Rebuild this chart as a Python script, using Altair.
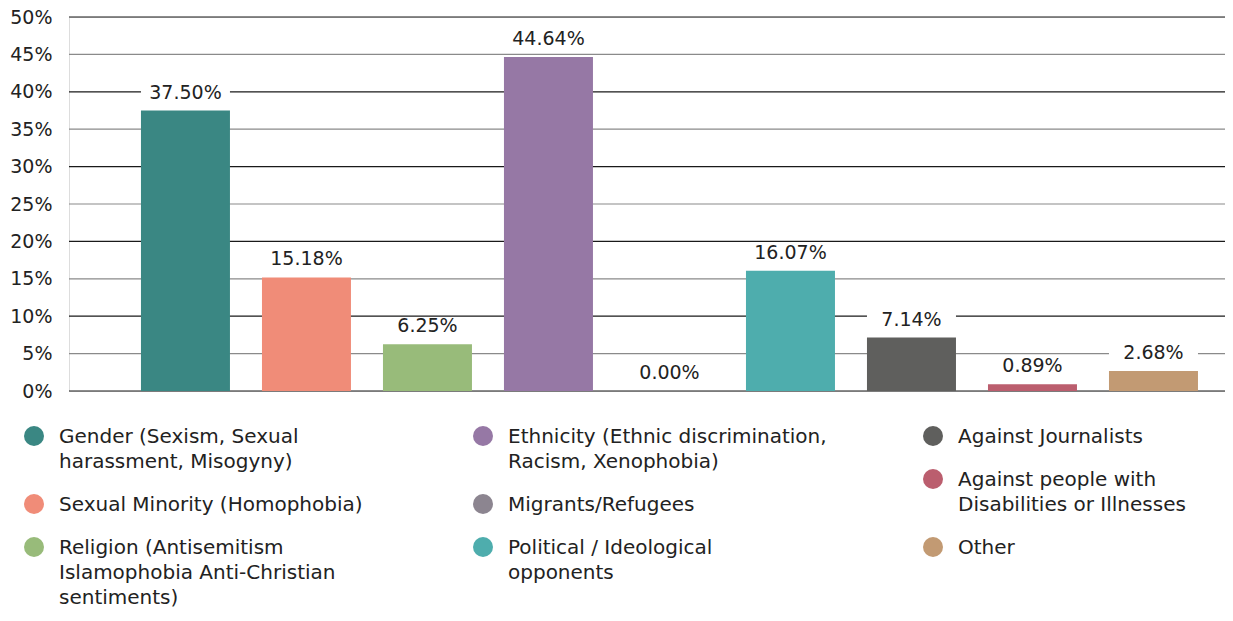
import json
import altair as alt
import pandas as pd

categories = [
    "Gender (Sexism, Sexual harassment, Misogyny)",
    "Sexual Minority (Homophobia)",
    "Religion (Antisemitism Islamophobia Anti-Christian sentiments)",
    "Ethnicity (Ethnic discrimination, Racism, Xenophobia)",
    "Migrants/Refugees",
    "Political / Ideological opponents",
    "Against Journalists",
    "Against people with Disabilities or Illnesses",
    "Other",
]
values = [37.50, 15.18, 6.25, 44.64, 0.00, 16.07, 7.14, 0.89, 2.68]
colors = ["#3a8783", "#f08c78", "#98bb7a", "#9678a5", "#8c8590",
          "#4eadad", "#5f5f5d", "#bb5e6e", "#c29a73"]
legend_lines = [
    ["Gender (Sexism, Sexual", "harassment, Misogyny)"],
    ["Sexual Minority (Homophobia)"],
    ["Religion (Antisemitism", "Islamophobia Anti-Christian", "sentiments)"],
    ["Ethnicity (Ethnic discrimination,", "Racism, Xenophobia)"],
    ["Migrants/Refugees"],
    ["Political / Ideological", "opponents"],
    ["Against Journalists"],
    ["Against people with", "Disabilities or Illnesses"],
    ["Other"],
]
legend_columns = [[0, 1, 2], [3, 4, 5], [6, 7, 8]]
y_ticks = [0, 5, 10, 15, 20, 25, 30, 35, 40, 45, 50]

FONT = "DejaVu Sans"
TEXT = "#222222"

df = pd.DataFrame({"category": categories, "value": values})
label_map = json.dumps(dict(zip(categories, legend_lines)))

xscale = alt.Scale(domain=categories, paddingInner=0.2645, paddingOuter=0.409, align=0.727)
yscale = alt.Scale(domain=[0, 50], nice=False, zero=True)
yaxis = alt.Axis(values=y_ticks, labelExpr="datum.value + '%'", domain=False, ticks=False,
                 grid=False, labelPadding=17, labelFontSize=19, labelFont=FONT,
                 labelColor=TEXT, title=None, labelOffset=9)
X = alt.X("category:N", sort=categories, scale=xscale, axis=None)

grid = alt.Chart(pd.DataFrame({"tick": y_ticks})).mark_rule(strokeWidth=1.2).encode(
    y=alt.Y("tick:Q", scale=yscale, axis=yaxis),
    stroke=alt.condition("datum.tick % 10 == 0", alt.value("#1a1a1a"), alt.value("#8a8a8a")),
)

legend_x = [-45, 404, 854]
bar_layers = []
for col, idxs in enumerate(legend_columns):
    group = [categories[i] for i in idxs]
    cols = [colors[i] for i in idxs]
    bar_layers.append(
        alt.Chart(df).transform_filter(
            alt.FieldOneOfPredicate(field="category", oneOf=group)
        ).mark_bar().encode(
            x=X,
            y=alt.Y("value:Q", scale=yscale, axis=yaxis),
            color=alt.Color(
                "category:N",
                scale=alt.Scale(domain=group, range=cols),
                legend=alt.Legend(
                    orient="none", legendX=legend_x[col], legendY=409,
                    direction="vertical", title=None, symbolType="circle",
                    symbolSize=400, symbolStrokeWidth=0, symbolOpacity=1,
                    labelFont=FONT, labelFontSize=20, labelColor=TEXT,
                    labelOffset=15, labelLimit=600, rowPadding=22, padding=0,
                    labelBaseline="top",
                    labelExpr=label_map + "[datum.label]",
                ),
            ),
        )
    )

boxes = alt.Chart(df).mark_bar(color="white", yOffset=-27, y2Offset=-9).encode(
    x=X,
    y=alt.Y("value:Q", scale=yscale, axis=yaxis),
    y2=alt.Y2("value"),
)

labels = alt.Chart(df).transform_calculate(
    label="format(datum.value, '.2f') + '%'"
).mark_text(dy=-18, baseline="middle", fontSize=19, font=FONT, color=TEXT).encode(
    x=X,
    y=alt.Y("value:Q", scale=yscale, axis=yaxis),
    text="label:N",
)

chart = alt.layer(grid, *bar_layers, boxes, labels).resolve_scale(
    color="independent"
).properties(
    width=1156, height=374,
    autosize=alt.AutoSizeParams(type="none"),
    padding={"left": 61, "top": 9, "right": 0, "bottom": 217},
    background="white",
).configure_view(stroke=None).configure(
    style={"guide-label": {"lineHeight": 25, "dy": -9}}
)

chart.save("out.html", embed_options={"renderer": "svg", "actions": False})
